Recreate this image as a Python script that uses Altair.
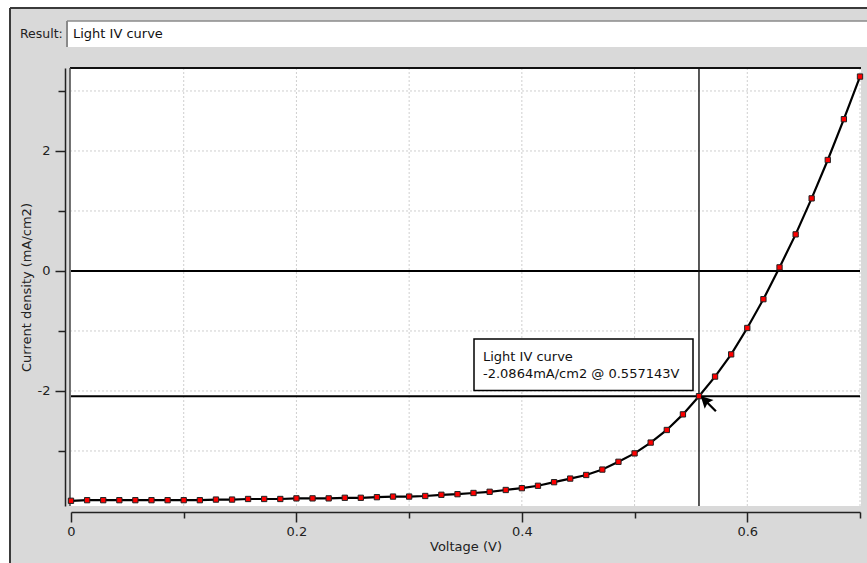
import altair as alt
import pandas as pd

# ---- data ----
voltage = [0, 0.0143, 0.0286, 0.0429, 0.0571, 0.0714, 0.0857, 0.1, 0.1143, 0.1286,
           0.1429, 0.1571, 0.1714, 0.1857, 0.2, 0.2143, 0.2286, 0.2429, 0.2571, 0.2714,
           0.2857, 0.3, 0.3143, 0.3286, 0.3429, 0.3571, 0.3714, 0.3857, 0.4, 0.4143,
           0.4286, 0.4429, 0.4571, 0.4714, 0.4857, 0.5, 0.5143, 0.5286, 0.5429, 0.557143,
           0.5714, 0.5857, 0.6, 0.6143, 0.6286, 0.6429, 0.6571, 0.6714, 0.6857, 0.7]
current = [-3.83, -3.82, -3.82, -3.82, -3.82, -3.82, -3.82, -3.82, -3.82, -3.81,
           -3.81, -3.80, -3.80, -3.80, -3.79, -3.79, -3.79, -3.78, -3.78, -3.77,
           -3.76, -3.76, -3.75, -3.73, -3.72, -3.70, -3.68, -3.65, -3.62, -3.58,
           -3.52, -3.46, -3.40, -3.31, -3.18, -3.04, -2.86, -2.65, -2.39, -2.0864,
           -1.76, -1.39, -0.95, -0.47, 0.06, 0.61, 1.21, 1.85, 2.53, 3.24]
x_grid = [0.1, 0.2, 0.3, 0.4, 0.5, 0.6, 0.7]
y_grid = [-3, -2, -1, 1, 2, 3]
x_ticks = [0, 0.1, 0.2, 0.3, 0.4, 0.5, 0.6, 0.7]
y_ticks = [-3, -2, -1, 0, 1, 2, 3]
zero_line = [0]
cursor_v = 0.557143
cursor_j = -2.0864
series_name = "Light IV curve"
x_title = "Voltage (V)"
y_title = "Current density (mA/cm2)"

FONT = "DejaVu Sans"
W, H = 789, 438
xs = alt.Scale(domain=[0, 0.7], nice=False, zero=False)
ys = alt.Scale(domain=[-3.917, 3.383], nice=False, zero=False)

df = pd.DataFrame({"V": voltage, "J": current})
one = alt.Data(values=[{"a": 1}])


def box(x, x2, y, y2, **kw):
    return alt.Chart(one).mark_rect(**kw).encode(
        x=alt.value(x), x2=alt.value(x2), y=alt.value(y), y2=alt.value(y2))


def hline(x, x2, y, **kw):
    return alt.Chart(one).mark_rule(**kw).encode(
        x=alt.value(x), x2=alt.value(x2), y=alt.value(y))


def vline(x, y, y2, **kw):
    return alt.Chart(one).mark_rule(**kw).encode(
        x=alt.value(x), y=alt.value(y), y2=alt.value(y2))


# panel backgrounds
panel = box(-61, 796, -60, 495, fill="#d9d9d9")
panel_top = hline(-61, 796, -60, color="#3a3a3a", strokeWidth=2)
panel_left = vline(-61, -60, 495, color="#3a3a3a", strokeWidth=2)

field_box = box(-4, 796, -47, -21, fill="white")
field_top = hline(-4, 796, -47, color="#8a8a8a", strokeWidth=1.5)
field_left = vline(-4, -47, -21, color="#8a8a8a", strokeWidth=2)
result_lbl = alt.Chart(one).mark_text(
    text="Result:", font=FONT, fontSize=12.5, align="left", baseline="alphabetic", color="#222"
).encode(x=alt.value(-51), y=alt.value(-30))
result_val = alt.Chart(one).mark_text(
    text=series_name, font=FONT, fontSize=13, align="left", baseline="alphabetic", color="#111"
).encode(x=alt.value(2), y=alt.value(-30))

plot_bg = box(-1, 790, 0, H, fill="white")

xgrid = alt.Chart(pd.DataFrame({"gx": x_grid})).mark_rule(
    color="#cfcfcf", strokeDash=[2, 2], strokeWidth=1
).encode(x=alt.X("gx:Q", scale=xs))
ygrid = alt.Chart(pd.DataFrame({"gy": y_grid})).mark_rule(
    color="#cfcfcf", strokeDash=[2, 2], strokeWidth=1
).encode(y=alt.Y("gy:Q", scale=ys))

frame_top = hline(-1, 790, 0, color="#111", strokeWidth=2)
frame_left = vline(-1, 0, H, color="#444", strokeWidth=1.5)

zero = alt.Chart(pd.DataFrame({"z": zero_line})).mark_rule(
    color="black", strokeWidth=2
).encode(y=alt.Y("z:Q", scale=ys))
cross_h = alt.Chart(pd.DataFrame({"cj": [cursor_j]})).mark_rule(
    color="black", strokeWidth=2
).encode(y=alt.Y("cj:Q", scale=ys))
cross_v = alt.Chart(pd.DataFrame({"cv": [cursor_v]})).mark_rule(
    color="#111", strokeWidth=1.4
).encode(x=alt.X("cv:Q", scale=xs))

x_axis = alt.Axis(
    values=x_ticks, grid=False, offset=6, zindex=1,
    domainColor="#222", domainWidth=1.5, tickColor="#222", tickWidth=1.5,
    tickSize={"condition": {"test": "round(datum.value*10) % 2 == 0", "value": 10}, "value": 6},
    labelExpr="round(datum.value*10) % 2 == 0 ? (datum.value == 0 ? '0' : format(datum.value, '.1f')) : ''",
    labelFont=FONT, labelFontSize=13, labelColor="#222", labelPadding=3,
    labelFlush=False, labelOverlap=False,
    title=x_title, titleFont=FONT, titleFontSize=13, titleFontWeight="normal",
    titleColor="#222", titlePadding=2,
)
y_axis = alt.Axis(
    values=y_ticks, grid=False, offset=6, zindex=1,
    domainColor="#222", domainWidth=1.5, tickColor="#222", tickWidth=1.5,
    tickSize={"condition": {"test": "datum.value % 2 == 0", "value": 10}, "value": 7},
    labelExpr="datum.value % 2 == 0 ? '' + datum.value : ''",
    labelFont=FONT, labelFontSize=13, labelColor="#222", labelPadding=5,
    labelFlush=False, labelOverlap=False,
    title=y_title, titleFont=FONT, titleFontSize=13, titleFontWeight="normal",
    titleColor="#222", titlePadding=4,
)

base = alt.Chart(df).encode(
    x=alt.X("V:Q", scale=xs, axis=x_axis),
    y=alt.Y("J:Q", scale=ys, axis=y_axis),
)
curve = base.mark_line(color="black", strokeWidth=2.2)
pts = base.mark_square(size=28, color="#ff0000", stroke="#222", strokeWidth=1, opacity=1, filled=True)

tip_box = box(403, 622, 271, 322.5, fill="white", stroke="black", strokeWidth=1.5)
tip1 = alt.Chart(one).mark_text(
    text=series_name, font=FONT, fontSize=13, align="left", baseline="alphabetic", color="#111"
).encode(x=alt.value(412), y=alt.value(292.5))
tip2 = alt.Chart(one).mark_text(
    text=f"{cursor_j}mA/cm2 @ {cursor_v}V", font=FONT, fontSize=13, align="left",
    baseline="alphabetic", color="#111"
).encode(x=alt.value(412), y=alt.value(310))

arrow = alt.Chart(one).mark_point(
    shape="M0,0 L1.6,0.5 L1.0,0.8 L2.0,1.8 L1.8,2.0 L0.8,1.0 L0.5,1.6 Z",
    size=256, filled=True, color="black", opacity=1, strokeWidth=0
).encode(x=alt.value(629.7), y=alt.value(328))

chart = alt.layer(
    panel, panel_top, panel_left,
    field_box, field_top, field_left, result_lbl, result_val,
    plot_bg, xgrid, ygrid, frame_top, frame_left,
    zero, cross_h, cross_v,
    curve, pts,
    tip_box, tip1, tip2, arrow,
).properties(
    width=W, height=H,
    padding={"left": 71, "top": 68, "right": 7, "bottom": 57},
    autosize=alt.AutoSizeParams(type="none"),
    background="white",
).configure_view(stroke=None)

chart.save("out.html", embed_options={"renderer": "svg", "actions": False})
